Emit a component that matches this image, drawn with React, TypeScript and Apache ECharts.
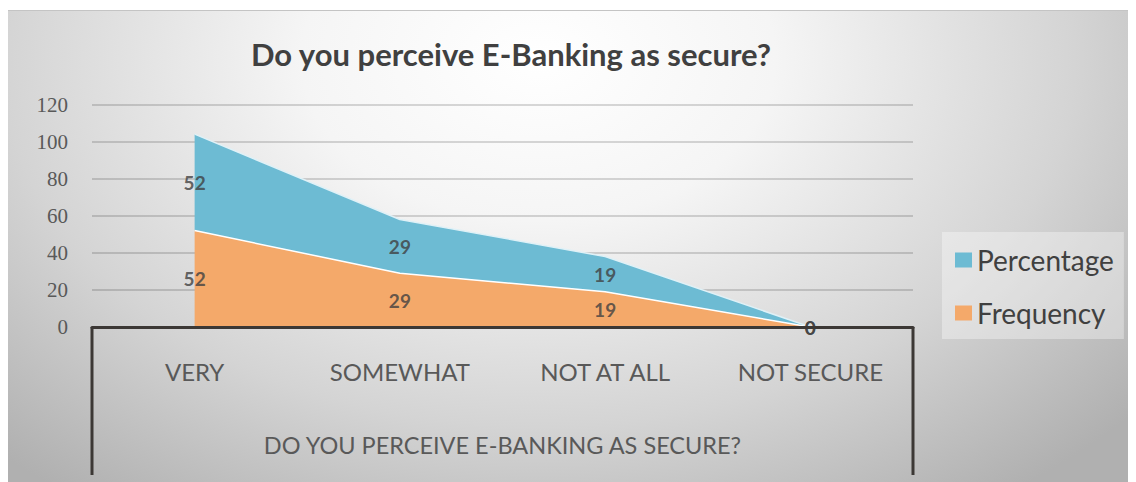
import React, { useEffect, useRef } from "react";
import * as echarts from "echarts";

const categories = ["VERY", "SOMEWHAT", "NOT AT ALL", "NOT SECURE"];
const frequency = [52, 29, 19, 0];
const percentage = [52, 29, 19, 0];
const yTicks = { min: 0, max: 120, interval: 20 };
const titleText = "Do you perceive E-Banking as secure?";
const axisTitle = "DO YOU PERCEIVE E-BANKING AS SECURE?";

const BLUE = "#6dbbd3";
const ORANGE = "#f4a96a";

export default function App() {
  const ref = useRef<HTMLDivElement>(null);
  useEffect(() => {
    if (!ref.current) return;
    const chart = echarts.init(ref.current, undefined, { renderer: "svg" });
    const freqMid = frequency.map((v) => v / 2);
    const pctMid = percentage.map((v, i) => frequency[i] + v / 2);
    const gridLeft = 84;
    const gridRight = 223;
    const gridTop = 93.5;
    const gridBottom = 155;
    const W = 1128;
    const H = 471;
    const axisY = H - gridBottom;
    chart.setOption({
      animation: false,
      backgroundColor: "transparent",
      textStyle: { fontFamily: "Lato" },
      title: {
        text: titleText,
        left: 498,
        top: 22,
        textAlign: "center",
        textStyle: { fontFamily: "Lato", fontSize: 31, fontWeight: "bold", color: "#404040" },
      },
      legend: {
        data: ["Percentage", "Frequency"],
        orient: "vertical",
        left: 934,
        top: 221,
        padding: [14, 10, 12, 13],
        itemGap: 25,
        itemWidth: 17,
        itemHeight: 15,
        icon: "rect",
        backgroundColor: "rgba(255,255,255,0.35)",
        textStyle: { fontFamily: "Lato", fontSize: 28, color: "#404040", lineHeight: 26 },
      },
      grid: { left: gridLeft, right: gridRight, top: gridTop, bottom: gridBottom },
      xAxis: {
        type: "category",
        data: categories,
        boundaryGap: true,
        axisTick: { show: false },
        axisLine: { show: true, lineStyle: { color: "#3c3835", width: 3 } },
        axisLabel: { fontFamily: "Lato", fontSize: 24, color: "#595959", margin: 32 },
        name: axisTitle,
        nameLocation: "middle",
        nameGap: 106,
        nameTextStyle: { fontFamily: "Lato", fontSize: 23.5, color: "#595959" },
        z: 10,
      },
      yAxis: {
        type: "value",
        min: yTicks.min,
        max: yTicks.max,
        interval: yTicks.interval,
        axisLine: { show: false },
        axisTick: { show: false },
        axisLabel: { fontFamily: "Liberation Serif", fontSize: 21, color: "#595959", margin: 24 },
        splitLine: { lineStyle: { color: "rgba(0,0,0,0.2)", width: 1.5 } },
      },
      series: [
        {
          name: "Frequency",
          type: "line",
          stack: "total",
          data: frequency,
          symbol: "none",
          lineStyle: { color: "#ffffff", width: 1.5 },
          itemStyle: { color: ORANGE },
          areaStyle: { color: ORANGE, opacity: 1 },
          z: 2,
        },
        {
          name: "Percentage",
          type: "line",
          stack: "total",
          data: percentage,
          symbol: "none",
          lineStyle: { color: "#dff1f7", width: 1.5 },
          itemStyle: { color: BLUE },
          areaStyle: { color: BLUE, opacity: 1 },
          z: 2,
        },
        {
          name: "freqLabels",
          type: "scatter",
          data: freqMid,
          symbolSize: 1,
          itemStyle: { color: "rgba(0,0,0,0)" },
          silent: true,
          z: 5,
          label: {
            show: true,
            position: "inside",
            formatter: (p: any) => String(frequency[p.dataIndex]),
            fontFamily: "Lato",
            fontSize: 19,
            fontWeight: "bold",
            color: "#404040",
          },
        },
        {
          name: "pctLabels",
          type: "scatter",
          data: pctMid,
          symbolSize: 1,
          itemStyle: { color: "rgba(0,0,0,0)" },
          silent: true,
          z: 5,
          label: {
            show: true,
            position: "inside",
            formatter: (p: any) => String(percentage[p.dataIndex]),
            fontFamily: "Lato",
            fontSize: 19,
            fontWeight: "bold",
            color: "#404040",
          },
        },
      ],
      graphic: [
        {
          type: "line",
          shape: { x1: gridLeft, y1: axisY, x2: gridLeft, y2: H - 7 },
          style: { stroke: "#3c3835", lineWidth: 3 },
          z: 10,
        },
        {
          type: "line",
          shape: { x1: W - gridRight, y1: axisY, x2: W - gridRight, y2: H - 7 },
          style: { stroke: "#3c3835", lineWidth: 3 },
          z: 10,
        },
      ],
    });
    return () => chart.dispose();
  }, []);
  return (
    <div
      style={{
        width: 1128,
        height: 471,
        marginTop: 2,
        borderTop: "1px solid #c4c4c4",
        background:
          "radial-gradient(ellipse 70% 115% at 47% 10%, #ffffff 0%, #f5f5f5 30%, #d4d4d4 68%, #b0b0b0 100%)",
      }}
    >
      <div ref={ref} style={{ width: 1128, height: 471 }} />
    </div>
  );
}
